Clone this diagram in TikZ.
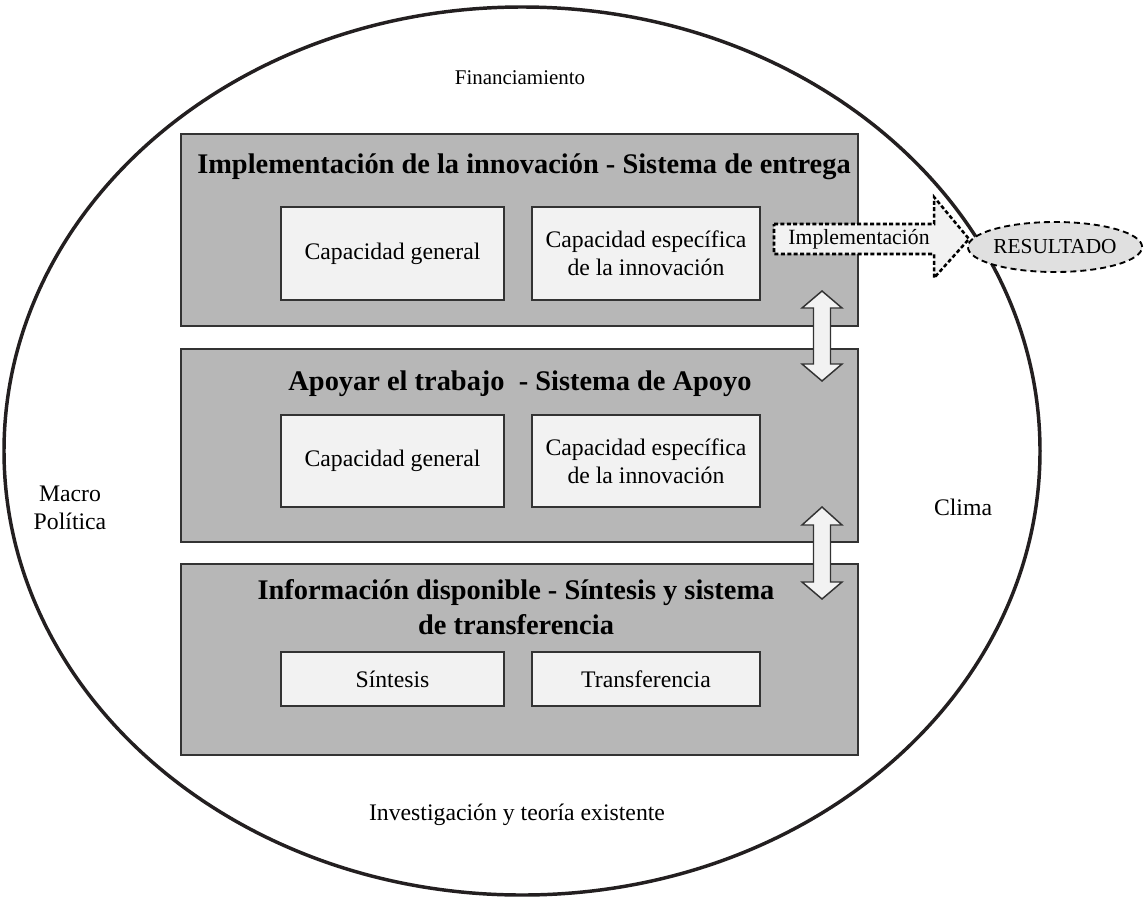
\documentclass[tikz,border=0pt]{standalone}
\usepackage{fontspec}
\setmainfont{Liberation Serif}
\usetikzlibrary{fit,shapes.geometric}
\definecolor{boxgray}{HTML}{B7B7B7}
\definecolor{innerfill}{HTML}{F2F2F2}
\definecolor{arrowfill}{HTML}{F2F2F2}
\definecolor{resfill}{HTML}{E0E0E0}
\definecolor{edge}{HTML}{333333}
\definecolor{ring}{HTML}{231F20}
\begin{document}
\begin{tikzpicture}[x=0.75pt,y=-0.75pt,
  outerbox/.style={draw=edge, line width=1.1pt, fill=boxgray, inner sep=0pt},
  innerbox/.style={draw=edge, line width=1.1pt, fill=innerfill, inner sep=0pt, align=center,
     font=\fontsize{17.8}{21}\selectfont},
  titletext/.style={font=\fontsize{21.3}{26}\selectfont\bfseries, align=center, inner sep=0pt},
  plaintext/.style={font=\fontsize{17.8}{21}\selectfont, align=center, inner sep=0pt},
  smalltext/.style={font=\fontsize{15.7}{19}\selectfont, inner sep=0pt},
  dblarrow/.style={draw=edge, line width=1.1pt, fill=arrowfill, line join=miter},
  implarrow/.style={draw=black, line width=1.9pt, dash pattern=on 3pt off 1.8pt, fill=arrowfill},
  resnode/.style={ellipse, draw=black, line width=1.4pt, dash pattern=on 4.5pt off 3pt, fill=resfill,
     minimum width=127.5pt, minimum height=37.5pt, inner sep=0pt, font=\fontsize{16}{19}\selectfont}
]
\useasboundingbox (0,0) rectangle (1144,903);
\fill[white] (0,0) rectangle (1144,903);

% outer context ellipse
\draw[ring, line width=2.6pt] (522,451) ellipse [x radius=518, y radius=444];

% context labels
\node[smalltext] (fin) at (520,78) {Financiamiento};
\node[plaintext] (macro) at (70,508) {Macro\\Política};
\node[plaintext] (clima) at (963,507) {Clima};
\node[plaintext] (inv) at (517,815) {Investigación y teoría existente};

% layers
\node[outerbox, fit={(181,134) (858,326)}] (L1) {};
\node[outerbox, fit={(181,349) (858,542)}] (L2) {};
\node[outerbox, fit={(181,564) (858,755)}] (L3) {};

\node[titletext] (t1) at (524,167) {Implementación de la innovación - Sistema de entrega};
\node[titletext] (t2) at (520,384) {Apoyar el trabajo \ - Sistema de Apoyo};
\node[titletext] (t3) at (516,607) {Información disponible - Síntesis y sistema\\de transferencia};

\node[innerbox, fit={(281,207) (504,300)}] (a1) {};
\node[plaintext] at (a1.center) {Capacidad general};
\node[innerbox, fit={(532,207) (760,300)}] (b1) {};
\node[plaintext] at (b1.center) {Capacidad específica\\de la innovación};

\node[innerbox, fit={(281,415) (504,507)}] (a2) {};
\node[plaintext] at (a2.center) {Capacidad general};
\node[innerbox, fit={(532,415) (760,507)}] (b2) {};
\node[plaintext] at (b2.center) {Capacidad específica\\de la innovación};

\node[innerbox, fit={(281,652) (504,706)}] (a3) {};
\node[plaintext] at (a3.center) {Síntesis};
\node[innerbox, fit={(532,652) (760,706)}] (b3) {};
\node[plaintext] at (b3.center) {Transferencia};

% double arrows between layers
\draw[dblarrow] (822,291) -- (842,308) -- (830.5,308) -- (830.5,364) -- (842,364) -- (822,381)
  -- (802,364) -- (813.5,364) -- (813.5,308) -- (802,308) -- cycle;
\draw[dblarrow] (822,507) -- (842,525) -- (830.5,525) -- (830.5,582) -- (842,582) -- (822,599)
  -- (802,582) -- (813.5,582) -- (813.5,525) -- (802,525) -- cycle;

% implementation arrow
\draw[implarrow] (774,224) -- (934,224) -- (934,197) -- (969,239) -- (934,278) -- (934,254)
  -- (774,254) -- cycle;
\node[smalltext, font=\fontsize{16.3}{19}\selectfont] (impl) at (859,239) {Implementación};

% result
\node[resnode] (res) at (1055,247) {RESULTADO};
\end{tikzpicture}
\end{document}
